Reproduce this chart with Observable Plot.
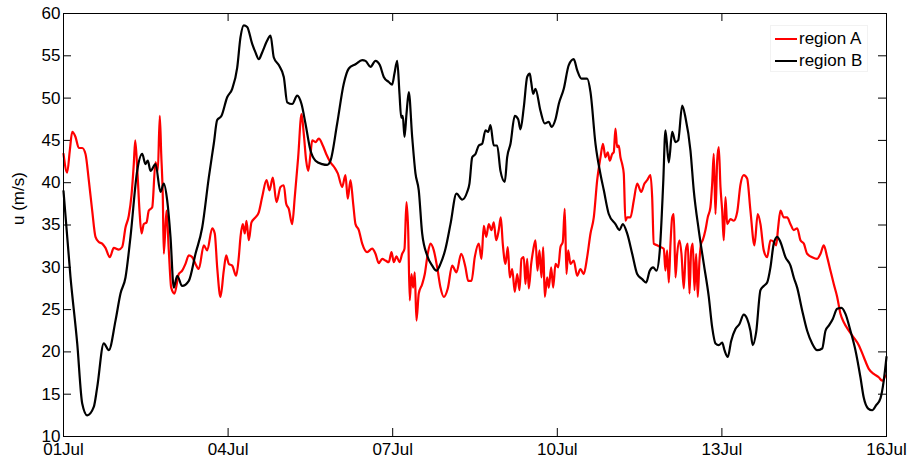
<!DOCTYPE html>
<html>
<head>
<meta charset="utf-8">
<script src="https://cdn.jsdelivr.net/npm/d3@7"></script>
<script src="https://cdn.jsdelivr.net/npm/@observablehq/plot@0.6"></script>
<style>
  html, body { margin: 0; padding: 0; background: #fff; }
  #chart { position: relative; width: 908px; height: 459px; font-family: "Liberation Sans", Arial, sans-serif; }
  #legend { position: absolute; left: 770px; top: 25px; width: 98px; height: 47px; background: #fff;
            border: 1px solid #f2f2f2; box-sizing: border-box; font-size: 17px; color: #000; }
  #legend .row { position: absolute; left: 4px; height: 18px; line-height: 18px; display: flex; align-items: center; white-space: nowrap; }
  #legend .swatch { width: 22px; height: 2px; margin-right: 2px; }
</style>
</head>
<body>
<div id="chart"></div>
<script>
// Time axis: days after 01 Jul 00:00
const tickDays = [0, 3, 6, 9, 12, 15];
const tickLabels = ["01Jul", "04Jul", "07Jul", "10Jul", "13Jul", "16Jul"];
const yTicks = [10, 15, 20, 25, 30, 35, 40, 45, 50, 55, 60];
const seriesNames = ["region A", "region B"];
const seriesColors = ["#ff0000", "#000000"];

const regionA_day = [0,0.067,0.115,0.159,0.219,0.279,0.341,0.401,0.461,0.523,
  0.583,0.643,0.705,0.765,0.844,0.917,1.008,1.07,1.13,1.19,
  1.239,1.281,1.307,1.343,1.385,1.422,1.463,1.513,1.555,1.617,
  1.677,1.719,1.755,1.781,1.81,1.828,1.877,1.919,1.963,2.023,
  2.101,2.163,2.223,2.284,2.346,2.406,2.466,2.557,2.619,2.71,
  2.757,2.801,2.861,2.921,2.965,3.013,3.075,3.147,3.195,3.226,
  3.268,3.304,3.335,3.377,3.426,3.499,3.559,3.621,3.7,3.754,
  3.815,3.882,3.955,4.015,4.059,4.106,4.168,4.215,4.277,4.338,
  4.379,4.423,4.46,4.502,4.533,4.593,4.653,4.726,4.788,4.866,
  4.939,4.999,5.079,5.139,5.181,5.231,5.28,5.322,5.382,5.444,
  5.535,5.626,5.686,5.746,5.808,5.868,5.929,5.978,6.02,6.069,
  6.124,6.173,6.215,6.251,6.282,6.311,6.342,6.373,6.402,6.433,
  6.475,6.537,6.585,6.639,6.689,6.749,6.811,6.871,6.931,7.004,
  7.084,7.162,7.248,7.326,7.376,7.436,7.496,7.569,7.618,7.66,
  7.704,7.751,7.8,7.842,7.886,7.933,7.97,8.006,8.056,8.098,
  8.134,8.178,8.225,8.269,8.311,8.347,8.389,8.42,8.451,8.48,
  8.524,8.56,8.602,8.639,8.675,8.712,8.743,8.772,8.815,8.845,
  8.888,8.925,8.967,9.016,9.058,9.1,9.136,9.167,9.198,9.24,
  9.3,9.362,9.422,9.482,9.544,9.605,9.665,9.727,9.787,9.832,
  9.878,9.92,9.956,10,10.029,10.06,10.091,10.12,10.151,10.182,
  10.211,10.242,10.273,10.333,10.394,10.456,10.529,10.589,10.638,10.698,
  10.729,10.758,10.82,10.88,10.941,10.971,11.002,11.032,11.063,11.094,
  11.123,11.154,11.185,11.227,11.263,11.305,11.342,11.378,11.409,11.44,
  11.469,11.501,11.531,11.56,11.591,11.622,11.651,11.7,11.742,11.791,
  11.823,11.852,11.883,11.914,11.943,11.974,12.005,12.034,12.065,12.096,
  12.156,12.216,12.278,12.339,12.398,12.46,12.52,12.593,12.653,12.703,
  12.763,12.825,12.885,12.945,12.989,13.025,13.067,13.128,13.189,13.25,
  13.31,13.372,13.432,13.493,13.554,13.645,13.736,13.797,13.857,13.919,
  13.979,14.04,14.101,14.161,14.222,14.313,14.403,14.495,14.585,14.677,
  14.768,14.859,14.92,14.981];
const regionA_u = [43.4,41.2,43.8,46.0,45.4,44.1,44.1,43.4,40.3,36.7,
  33.6,33.0,32.8,32.3,31.2,32.3,32.1,32.4,34.7,36.1,
  38.5,42.2,45.0,41.8,36.7,34.0,35.1,35.3,36.7,37.1,
  42.4,41.4,47.9,43.4,38.3,31.6,36.7,32.0,27.6,26.9,
  29.2,29.6,30.4,31.4,31.2,30.4,29.8,32.6,32.0,34.6,
  34.0,30.0,26.5,29.6,31.4,30.4,30.2,29.0,31.2,33.6,
  35.1,34.0,35.5,33.2,35.3,35.9,36.5,38.3,40.3,39.1,
  40.6,37.7,39.5,39.7,37.5,36.9,35.1,38.3,43.0,48.1,
  45.8,42.6,41.4,43.4,45.0,44.8,45.2,44.4,43.4,42.4,
  41.8,41.1,39.5,40.9,38.1,40.3,37.5,35.1,34.4,32.8,
  31.8,32.2,31.6,30.5,31.0,30.8,30.6,31.8,30.6,31.3,
  30.6,31.6,32.2,37.7,34.4,26.1,29.2,27.6,29.4,23.7,
  26.9,28.0,29.2,31.6,32.8,32.0,30.0,27.6,26.5,27.5,
  30.2,29.4,31.6,30.0,28.4,28.4,31.2,32.8,31.0,34.9,
  33.6,35.1,34.4,35.3,33.2,34.4,35.9,32.8,30.4,32.4,
  28.8,29.8,27.1,29.2,27.3,31.0,31.2,28.0,31.0,27.5,
  30.4,32.0,33.2,29.6,32.0,28.8,32.4,26.5,28.8,27.6,
  30.0,27.6,30.4,30.0,32.4,33.0,36.9,29.2,32.0,30.4,
  30.8,29.0,29.8,29.2,31.2,34.0,35.9,40.3,43.0,44.6,
  43.0,43.6,42.6,43.4,43.6,46.4,44.2,44.4,43.0,42.2,
  41.1,35.5,35.9,35.9,37.9,39.9,38.9,39.9,40.3,40.9,
  38.3,32.8,32.6,32.4,32.2,29.6,32.0,28.2,32.8,35.9,
  36.3,28.8,31.6,33.2,31.6,27.5,32.0,32.8,26.9,32.0,
  32.8,27.3,31.6,26.5,30.8,32.8,33.2,34.4,35.9,37.1,
  39.9,43.4,36.3,42.6,44.2,39.5,36.7,33.2,38.3,35.1,
  35.7,35.5,36.5,39.8,40.9,40.5,36.7,32.6,36.3,35.1,
  32.0,31.2,33.2,33.0,32.6,34.7,36.7,35.9,35.9,35.1,
  34.4,34.6,33.2,32.8,31.6,31.2,31.0,31.6,32.6,31.2,
  29.6,28.0,26.5,24.5,23.5,22.5,21.7,20.8,19.4,18.0,
  17.4,17.0,16.6,17.2];

const regionB_day = [0,0.128,0.25,0.341,0.432,0.552,0.614,0.734,0.826,0.948,
  1.039,1.13,1.221,1.343,1.434,1.494,1.536,1.586,1.677,1.768,
  1.828,1.89,1.95,2.01,2.072,2.163,2.284,2.406,2.528,2.648,
  2.739,2.801,2.88,2.983,3.075,3.166,3.226,3.286,3.348,3.439,
  3.499,3.559,3.621,3.712,3.773,3.833,3.924,4.015,4.077,4.168,
  4.259,4.338,4.41,4.502,4.593,4.715,4.806,4.866,4.988,5.108,
  5.2,5.322,5.444,5.504,5.595,5.686,5.765,5.837,5.929,5.99,
  6.032,6.082,6.124,6.155,6.184,6.215,6.251,6.293,6.355,6.415,
  6.475,6.537,6.628,6.72,6.798,6.871,6.962,7.053,7.162,7.266,
  7.357,7.399,7.449,7.509,7.569,7.631,7.691,7.74,7.782,7.842,
  7.904,7.964,8.043,8.086,8.147,8.225,8.287,8.329,8.389,8.451,
  8.498,8.524,8.56,8.602,8.693,8.772,8.845,8.894,8.967,9.027,
  9.118,9.209,9.3,9.362,9.441,9.544,9.605,9.696,9.787,9.848,
  9.938,10.06,10.133,10.193,10.273,10.365,10.456,10.547,10.62,10.685,
  10.747,10.807,10.868,10.93,10.971,11.032,11.094,11.154,11.203,11.276,
  11.336,11.427,11.487,11.578,11.67,11.761,11.823,11.883,11.943,12.005,
  12.047,12.107,12.169,12.247,12.32,12.398,12.46,12.52,12.562,12.624,
  12.703,12.763,12.825,12.885,12.945,13.007,13.067,13.158,13.25,13.31,
  13.372,13.463,13.554,13.645,13.736,13.827,13.888,13.948,14.021,14.101,
  14.179,14.252,14.343,14.434,14.525,14.585,14.666,14.739,14.812,14.89,
  14.95,15];
const regionB_u = [39.0,28.8,21.0,13.9,12.5,13.5,15.8,21.0,20.2,23.7,
  26.9,28.8,33.6,41.4,43.4,42.2,42.6,41.4,42.2,38.9,
  39.9,37.9,33.6,27.6,29.0,27.8,28.4,31.6,34.7,40.6,
  44.6,47.4,47.9,50.1,51.1,53.6,57.2,58.6,58.4,56.4,
  55.4,54.6,55.4,56.8,57.4,54.8,53.9,52.5,49.5,49.3,
  50.3,49.3,47.0,43.8,42.6,42.2,42.1,42.6,47.0,51.7,
  53.5,54.0,54.5,54.4,53.7,54.4,53.9,52.5,51.9,51.6,
  52.9,54.4,50.5,47.7,47.9,45.4,48.1,50.7,45.4,41.1,
  39.1,34.0,31.4,30.2,29.6,30.4,32.2,35.1,38.7,38.0,
  38.9,39.9,43.0,43.4,44.4,44.6,46.2,46.0,46.8,44.4,
  44.4,41.4,40.1,43.0,44.6,47.9,47.5,46.3,48.9,52.5,
  52.9,51.9,50.5,51.1,48.5,47.0,47.2,46.6,47.5,49.3,
  51.1,53.9,54.6,53.3,52.3,52.3,50.7,44.6,41.0,39.1,
  36.3,35.1,34.4,35.1,34.0,31.6,29.2,28.6,28.2,29.6,
  30.0,29.6,32.0,39.9,46.2,42.4,46.0,44.8,45.0,49.1,
  47.7,43.8,39.1,34.4,30.4,26.5,22.9,21.0,20.8,21.1,
  20.2,19.4,21.3,22.7,23.3,24.4,23.9,22.5,20.8,22.3,
  27.3,27.8,28.2,30.0,32.8,33.6,33.0,31.2,30.2,28.8,
  27.6,24.9,22.5,21.0,20.2,20.4,22.5,23.1,23.9,25.1,
  25.2,24.5,22.5,20.2,17.0,14.6,13.3,13.1,13.7,14.5,
  16.6,19.4];

const rowsA = regionA_day.map((d, i) => ({day: d, u: regionA_u[i], region: seriesNames[0]}));
const rowsB = regionB_day.map((d, i) => ({day: d, u: regionB_u[i], region: seriesNames[1]}));

const W = 908, H = 459;
const M = {top: 13, right: 22, bottom: 23, left: 63};
const innerW = W - M.left - M.right;
const innerH = H - M.top - M.bottom;
const tickLen = 8;

const chart = Plot.plot({
  width: W,
  height: H,
  marginTop: M.top,
  marginRight: M.right,
  marginBottom: M.bottom,
  marginLeft: M.left,
  style: {fontFamily: "'Liberation Sans', Arial, sans-serif", fontSize: "17px", color: "#000", background: "#fff", overflow: "visible"},
  x: {domain: [tickDays[0], tickDays[tickDays.length - 1]], label: null},
  y: {domain: [yTicks[0], yTicks[yTicks.length - 1]], label: null},
  marks: [
    Plot.axisX(tickDays, {tickSize: 0, tickPadding: 6, label: null,
      tickFormat: d => tickLabels[tickDays.indexOf(d)]}),
    Plot.axisY(yTicks, {tickSize: 0, tickPadding: 3, label: null}),
    // inward ticks on all four sides of the box
    Plot.ruleX(tickDays, {x: d => d, insetTop: innerH - tickLen, stroke: "#000"}),
    Plot.ruleX(tickDays, {x: d => d, insetBottom: innerH - tickLen, stroke: "#000"}),
    Plot.ruleY(yTicks, {y: d => d, insetRight: innerW - tickLen, stroke: "#000"}),
    Plot.ruleY(yTicks, {y: d => d, insetLeft: innerW - tickLen, stroke: "#000"}),
    Plot.line(rowsA, {x: "day", y: "u", stroke: seriesColors[0], strokeWidth: 2.2, curve: "monotone-x"}),
    Plot.line(rowsB, {x: "day", y: "u", stroke: seriesColors[1], strokeWidth: 2.2, curve: "monotone-x"}),
    Plot.frame({stroke: "#000"}),
    Plot.text(["u (m/s)"], {text: d => d, frameAnchor: "left", dx: -45, rotate: -90, fontSize: 17, fill: "#000"})
  ]
});

const root = document.getElementById("chart");
root.appendChild(chart);

// legend box
const legend = document.createElement("div");
legend.id = "legend";
seriesNames.forEach((name, i) => {
  const row = document.createElement("div");
  row.className = "row";
  row.style.top = (4 + i * 22) + "px";
  const sw = document.createElement("span");
  sw.className = "swatch";
  sw.style.background = seriesColors[i];
  const label = document.createElement("span");
  label.textContent = name;
  row.appendChild(sw);
  row.appendChild(label);
  legend.appendChild(row);
});
root.appendChild(legend);
</script>
</body>
</html>
